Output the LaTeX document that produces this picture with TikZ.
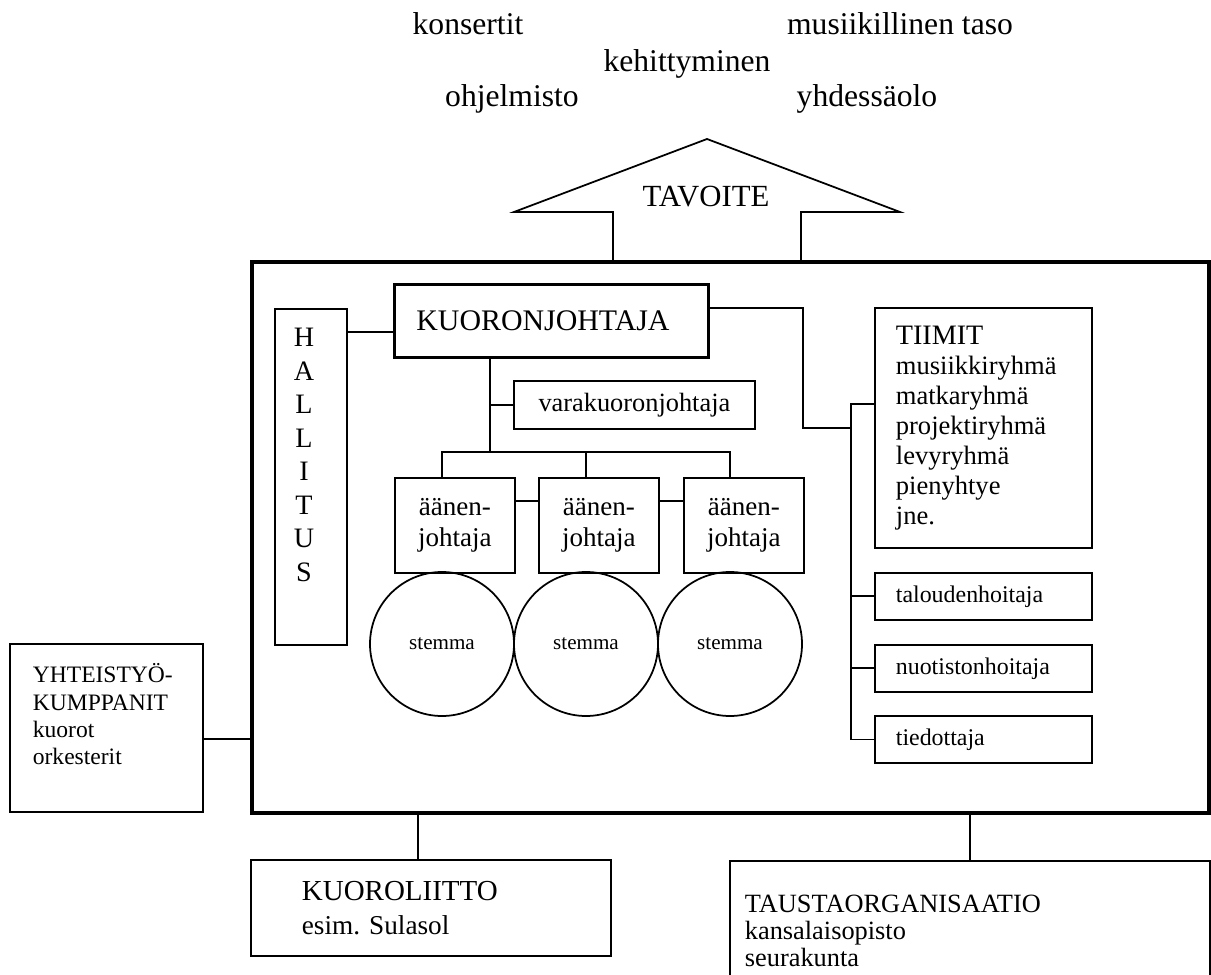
\documentclass[tikz,border=0pt]{standalone}
\usepackage{fontspec}
\setmainfont{Liberation Serif}
\frenchspacing
\usetikzlibrary{positioning}

\begin{document}
\begin{tikzpicture}[
  line/.style={line width=1pt},
  box/.style={draw, line width=1pt, anchor=north west, inner ysep=0pt, align=left},
  word/.style={font=\fontsize{18}{21}\selectfont, anchor=base},
  voice/.style={box, align=center, minimum height=1.9cm, text width=1.6cm,
                inner xsep=0.4cm, font=\fontsize{15.4}{17.6}\selectfont},
  part/.style={circle, draw, line width=1pt, minimum size=2.88cm, inner sep=0pt,
               font=\fontsize{12}{14}\selectfont},
  duty/.style={box, minimum height=0.94cm, text width=3.5cm, inner xsep=0.42cm,
               font=\fontsize{13.6}{16}\selectfont}
]
  \useasboundingbox (0,0) rectangle (24.22,19.48);

  % Tavoitteet
  \node[word] (w1) at (9.36,18.78) {konsertit};
  \node[word] (w2) at (18.00,18.78) {musiikillinen taso};
  \node[word] (w3) at (13.74,18.04) {kehittyminen};
  \node[word] (w4) at (10.24,17.34) {ohjelmisto};
  \node[word] (w5) at (17.34,17.34) {yhdessäolo};

  % Kuoro
  \node[draw, line width=2.1pt, anchor=north west, minimum width=19.14cm,
        minimum height=11.02cm, inner sep=0pt] (kuoro) at (5.00,14.28) {};

  \draw[line] (kuoro.north -| 12.26,0) -- (12.26,15.24) -- (10.28,15.24)
    -- (14.14,16.70) -- (18.00,15.24) -- (16.02,15.24) -- (kuoro.north -| 16.02,0);
  \node[font=\fontsize{17.5}{20}\selectfont] (tavoite) at (14.12,15.54) {TAVOITE};

  \node[box, line width=1.6pt, minimum height=1.46cm, text width=5.4cm,
        inner xsep=0.44cm, font=\fontsize{17}{20}\selectfont] (kj) at (7.86,13.82)
    {KUORONJOHTAJA};

  \node[box, minimum width=1.44cm, minimum height=6.72cm] (hall) at (5.48,13.32) {};
  \node[font=\fontsize{16}{19.06}\selectfont, align=center] (hallnimi) at (6.08,10.38)
    {H\\A\\L\\L\\I\\T\\U\\S};

  \node[box, align=center, minimum height=0.96cm, text width=3.98cm, inner xsep=0.42cm,
        font=\fontsize{15}{17}\selectfont] (vara) at (10.26,11.88) {varakuoronjohtaja};

  \node[voice] (aj1) at (7.88,9.94) {äänen-\\johtaja};
  \node[voice] (aj2) at (10.76,9.94) {äänen-\\johtaja};
  \node[voice] (aj3) at (13.66,9.94) {äänen-\\johtaja};

  \node[part] (st1) at (8.84,6.60) {stemma};
  \node[part] (st2) at (11.72,6.60) {stemma};
  \node[part] (st3) at (14.60,6.60) {stemma};

  \node[box, minimum height=4.80cm, text width=3.5cm, inner xsep=0.42cm,
        font=\fontsize{15.1}{17.1}\selectfont] (tiimit) at (17.48,13.34)
    {{\fontsize{16}{17.1}\selectfont TIIMIT}\\musiikkiryhmä\\matkaryhmä\\projektiryhmä\\levyryhmä\\pienyhtye\\jne.};

  \node[duty] (talous) at (17.48,8.04) {taloudenhoitaja};
  \node[duty] (nuotit) at (17.48,6.60) {nuotistonhoitaja};
  \node[duty] (tiedotus) at (17.48,5.18) {tiedottaja};

  % Ulkopuoliset
  \node[box, minimum height=3.36cm, text width=2.94cm, inner xsep=0.46cm,
        font=\fontsize{13.4}{15.6}\selectfont] (yht) at (0.18,6.62)
    {YHTEISTYÖ-\\KUMPPANIT\\kuorot\\orkesterit\\\mbox{}};

  \node[box, minimum height=1.92cm, text width=5.16cm, inner xsep=1.02cm,
        font=\fontsize{15.5}{19.4}\selectfont] (liitto) at (5.00,2.30)
    {{\fontsize{16.5}{19.4}\selectfont KUOROLIITTO}\\esim. Sulasol};

  \node[box, minimum height=2.80cm, text width=9.0cm, inner xsep=0.3cm,
        font=\fontsize{15}{15.6}\selectfont] (tausta) at (14.58,2.28)
    {TAUSTAORGANISAATIO\\kansalaisopisto\\seurakunta};

  % Yhteydet
  \draw[line] (hall.east |- 0,12.84) -- (kj.west |- 0,12.84);
  \draw[line] (kj.south -| 9.80,0) -- (9.80,10.44);
  \draw[line] (vara.west -| 9.80,0) -- (vara.west);
  \draw[line] (aj1.north -| 8.84,0) -- (8.84,10.44) -- (14.60,10.44) -- (aj3.north -| 14.60,0);
  \draw[line] (11.72,10.44) -- (aj2.north -| 11.72,0);
  \draw[line] (aj1.east |- 0,9.46) -- (aj2.west |- 0,9.46);
  \draw[line] (aj2.east |- 0,9.46) -- (aj3.west |- 0,9.46);

  \draw[line] (kj.east |- 0,13.32) -- (16.06,13.32) -- (16.06,10.92) -- (17.02,10.92);
  \draw[line] (tiimit.west |- 0,11.40) -- (17.02,11.40) -- (tiedotus.west -| 17.02,0)
    -- (tiedotus.west);
  \draw[line] (talous.west -| 17.02,0) -- (talous.west);
  \draw[line] (nuotit.west -| 17.02,0) -- (nuotit.west);

  \draw[line] (yht.east |- 0,4.70) -- (kuoro.west |- 0,4.70);
  \draw[line] (kuoro.south -| 8.36,0) -- (liitto.north -| 8.36,0);
  \draw[line] (kuoro.south -| 19.40,0) -- (tausta.north -| 19.40,0);
\end{tikzpicture}
\end{document}
